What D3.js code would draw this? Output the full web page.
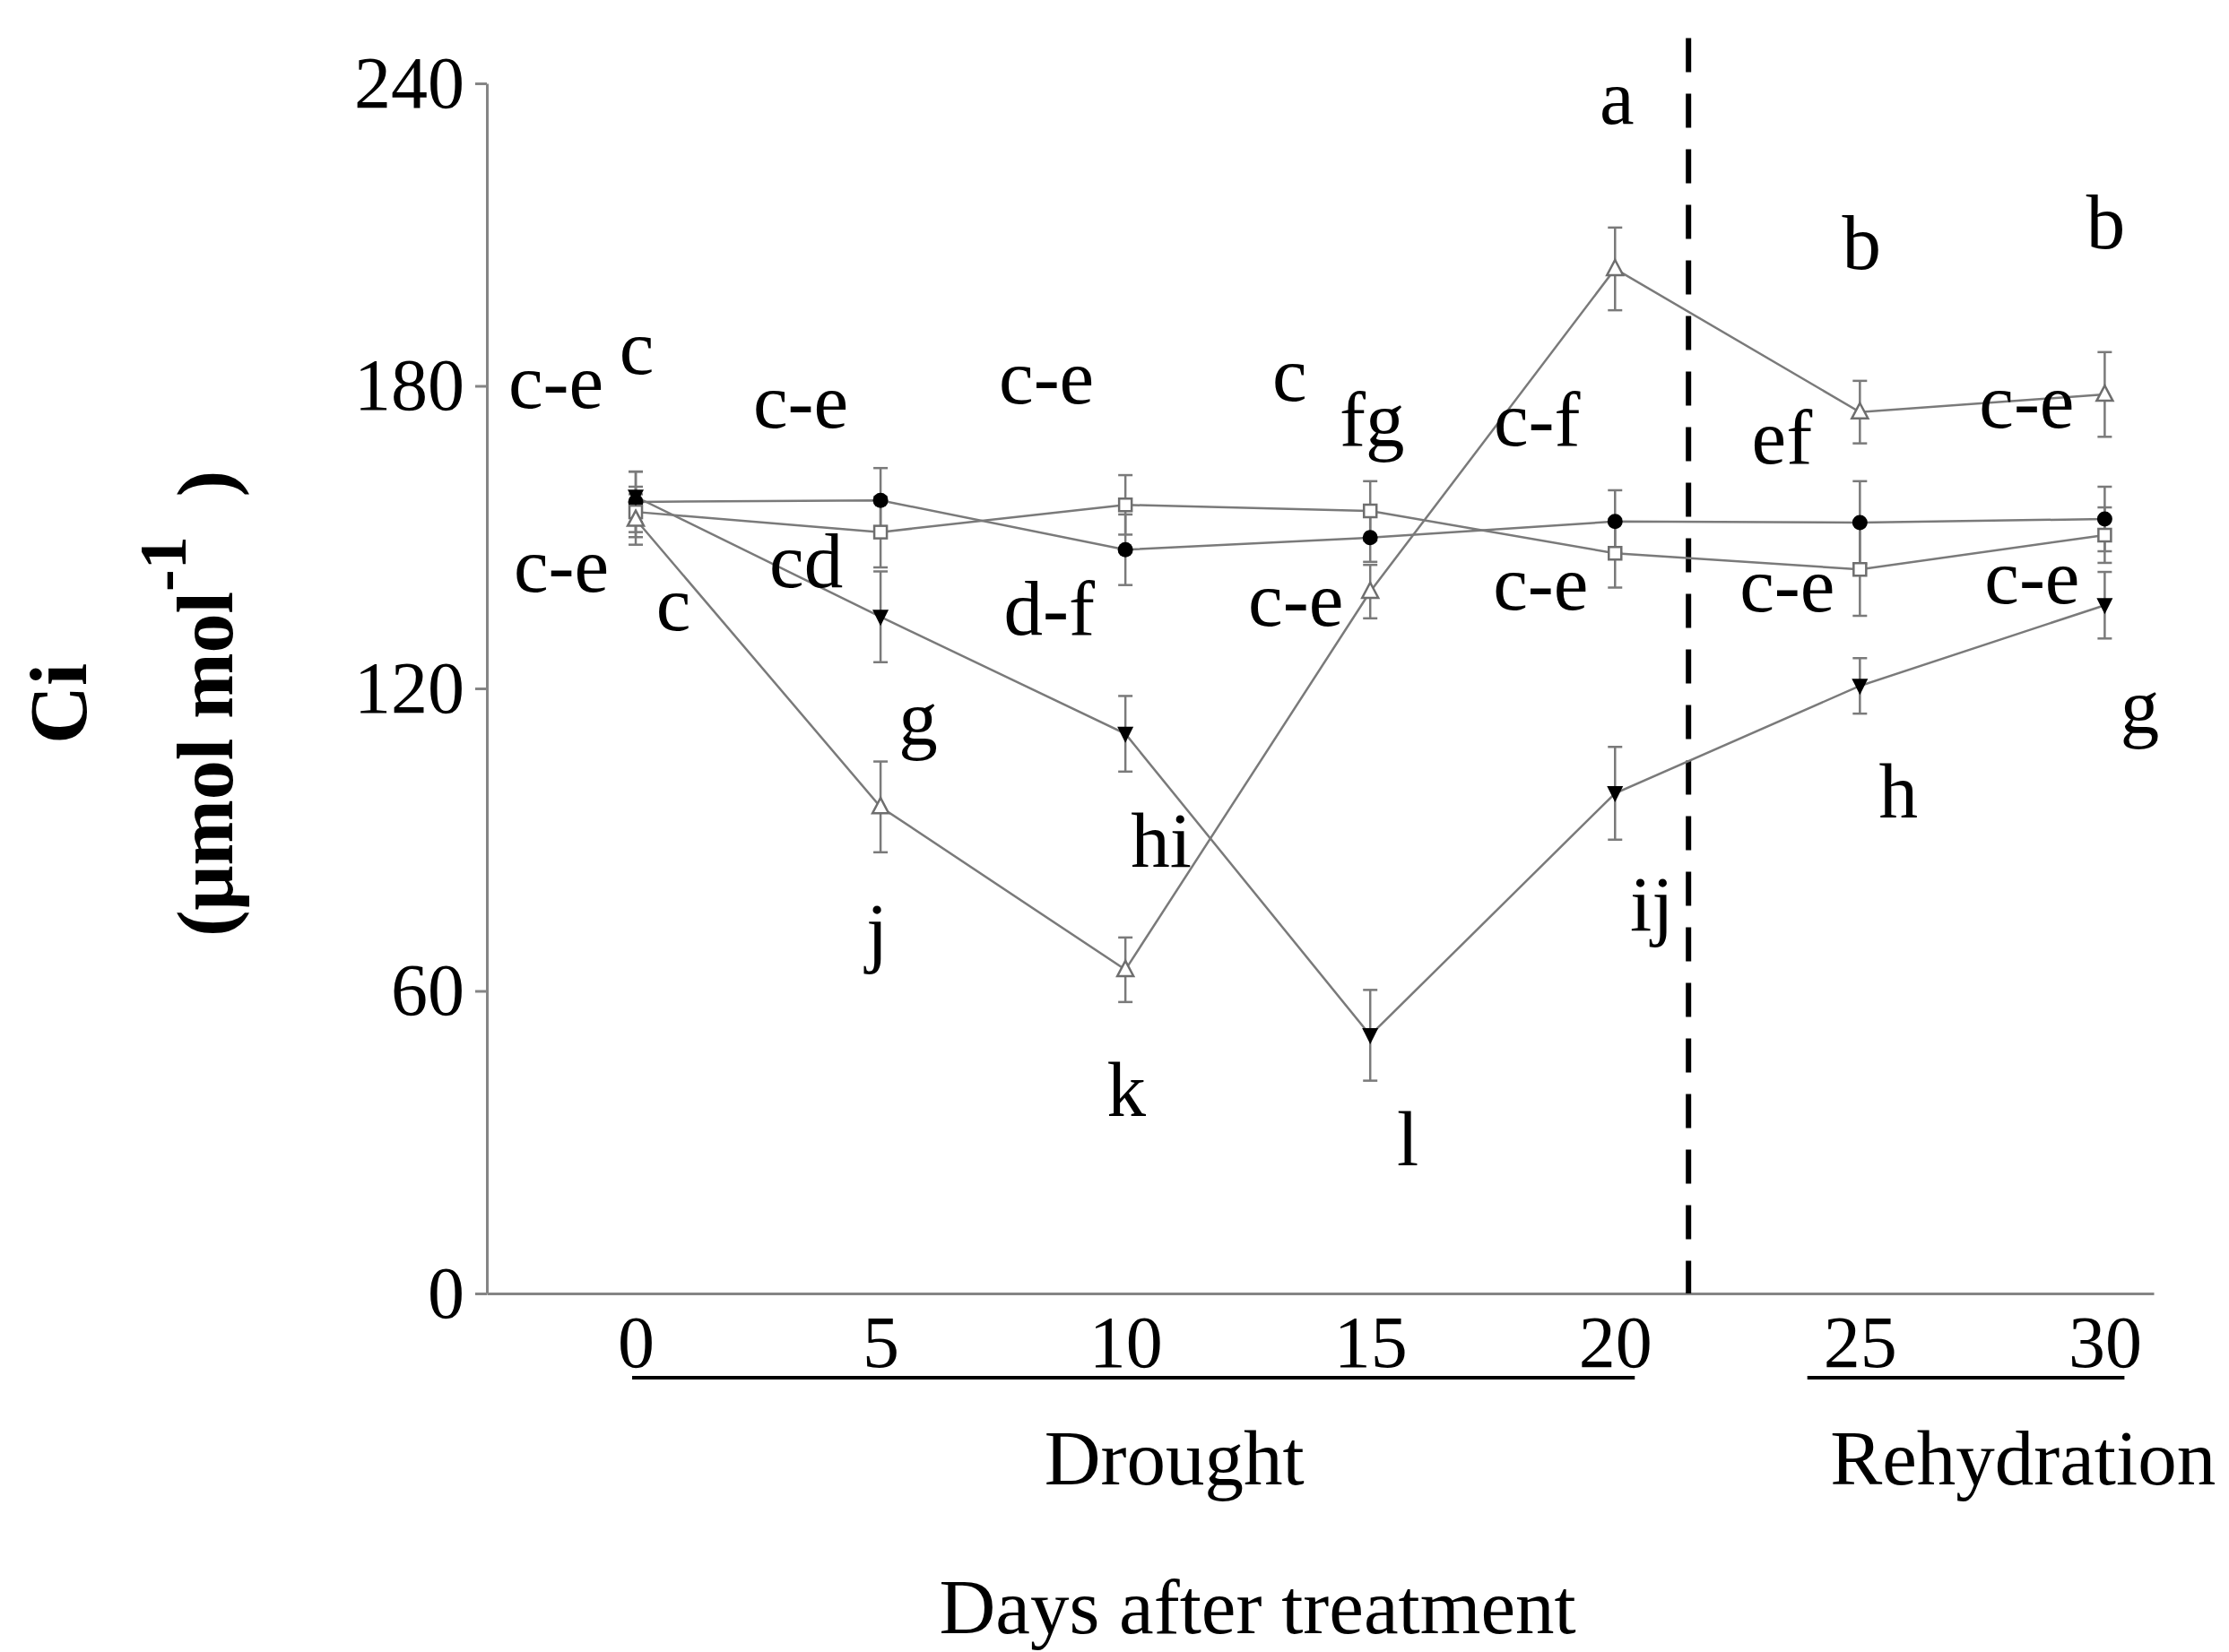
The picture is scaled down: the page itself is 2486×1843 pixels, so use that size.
<!DOCTYPE html>
<html>
<head>
<meta charset="utf-8">
<script src="https://cdn.jsdelivr.net/npm/d3@7"></script>
<style>
  body { margin: 0; background: #fff; }
  svg { display: block; }
  text { font-family: "Liberation Serif", "Times New Roman", serif; fill: #000; }
</style>
</head>
<body>
<svg id="chart" width="2486" height="1843"></svg>
<script>
// ---- Data: intercellular CO2 (Ci, µmol mol-1), mean ± SE ----
const days = [0, 5, 10, 15, 20, 25, 30];

const ciFilledCircle = [157, 157.3, 147.5, 149.9, 153.1, 152.9, 153.6];
const seFilledCircle = [6, 6.4, 7, 4.8, 6.2, 8.2, 6.4];
const lettersFilledCircle = ["c-e", "c-e", "d-f", "c-e", "c-f", "c-e", "c-e"];

const ciOpenSquare = [155, 151, 156.4, 155.2, 146.8, 143.6, 150.4];
const seOpenSquare = [5, 7, 5.9, 5.9, 6.8, 9.2, 5.5];
const lettersOpenSquare = ["c", "cd", "c-e", "c", "c-e", "ef", "c-e"];

const ciOpenTriangle = [153.5, 96.5, 64.2, 139.2, 203.2, 174.8, 178.3];
const seOpenTriangle = [5, 9, 6.4, 5.3, 8.2, 6.2, 8.4];
const lettersOpenTriangle = ["c-e", "j", "k", "fg", "a", "b", "b"];

const ciFilledDown = [158, 134.2, 111, 51.2, 99.2, 120.5, 136.5];
const seFilledDown = [5, 9, 7.5, 9, 9.2, 5.5, 6.6];
const lettersFilledDown = ["c", "g", "hi", "l", "ij", "h", "g"];

const yTickValues = [0, 60, 120, 180, 240];
const xTickValues = [0, 5, 10, 15, 20, 25, 30];

const phaseNames = ["Drought", "Rehydration"];
const phaseStart = [0, 24];
const phaseEnd = [20, 30];
const phaseNameAt = [11, 28.33];
const rewateringDay = 21.5;

// ---- Layout ----
const svg = d3.select("#chart");
const x = d3.scaleLinear().domain([-3.04, 31]).range([543, 2402]);
const y = d3.scaleLinear().domain([0, 240]).range([1443, 93]);

const AXIS_GREY = "#858585";
const LINE_GREY = "#7a7a7a";

// label offsets (px) from each point: [dx, dy] to the label's baseline centre
const labelOffsets = {
  filledCircle: [[-89, -105], [-89, -81], [-85, 95], [-83, 98], [-87, -85], [-81, 99], [-87, -102]],
  openSquare:   [[1, -154], [-83, 61], [-88, -113], [-90, -123], [-83, 63], [-87, -118], [-81, 76]],
  openTriangle: [[-83, 80], [-4, 168], [1, 163], [2, -163], [2, -162], [2, -160], [1, -163]],
  filledDown:   [[42, 149], [42, 142], [40, 148], [42, 145], [41, 153], [43, 147], [39, 142]]
};

const series = [
  { key: "filledCircle", values: ciFilledCircle, se: seFilledCircle, letters: lettersFilledCircle, shape: "circle", fill: "#000", stroke: "#000" },
  { key: "openSquare", values: ciOpenSquare, se: seOpenSquare, letters: lettersOpenSquare, shape: "square", fill: "#fff", stroke: "#6e6e6e" },
  { key: "openTriangle", values: ciOpenTriangle, se: seOpenTriangle, letters: lettersOpenTriangle, shape: "triangle", fill: "#fff", stroke: "#6e6e6e" },
  { key: "filledDown", values: ciFilledDown, se: seFilledDown, letters: lettersFilledDown, shape: "down", fill: "#000", stroke: "#000" }
];

// ---- Axes ----
const yAxis = d3.axisLeft(y).tickValues(yTickValues).tickSize(13).tickSizeOuter(0).tickPadding(12);
const gy = svg.append("g").attr("transform", `translate(${x(-3.04)},0)`).call(yAxis);
gy.select(".domain").attr("stroke", AXIS_GREY).attr("stroke-width", 3);
gy.selectAll(".tick line").attr("stroke", AXIS_GREY).attr("stroke-width", 3);
gy.selectAll(".tick text").style("font-family", "Liberation Serif").style("font-size", "82px").attr("fill", "#000");

const xAxis = d3.axisBottom(x).tickValues(xTickValues).tickSize(0).tickSizeOuter(0).tickPadding(24);
const gx = svg.append("g").attr("transform", `translate(0,${y(0)})`).call(xAxis);
gx.select(".domain").attr("stroke", AXIS_GREY).attr("stroke-width", 3);
gx.selectAll(".tick text").style("font-family", "Liberation Serif").style("font-size", "82px").attr("fill", "#000");

// ---- Rewatering divider ----
svg.append("line")
  .attr("x1", x(rewateringDay)).attr("x2", x(rewateringDay))
  .attr("y1", y(249)).attr("y2", y(0))
  .attr("stroke", "#000").attr("stroke-width", 6)
  .attr("stroke-dasharray", "38,24");

// ---- Phase underlines and names ----
const phaseLineY = y(0) + 94;
phaseNames.forEach((name, i) => {
  svg.append("line")
    .attr("x1", x(phaseStart[i]) - 4).attr("x2", x(phaseEnd[i]) + 22)
    .attr("y1", phaseLineY).attr("y2", phaseLineY)
    .attr("stroke", "#000").attr("stroke-width", 4);
  svg.append("text").attr("x", x(phaseNameAt[i])).attr("y", 1656).attr("text-anchor", "middle")
    .style("font-size", "87px").text(name);
});

svg.append("text").attr("x", x(12.7)).attr("y", 1822).attr("text-anchor", "middle")
  .style("font-size", "87px").text("Days after treatment");

// ---- Y axis title ----
svg.append("text")
  .attr("transform", `translate(96,${y(117)}) rotate(-90)`)
  .attr("text-anchor", "middle")
  .style("font-size", "90px").style("font-weight", "bold")
  .text("Ci");

const unit = svg.append("text")
  .attr("transform", `translate(259,${y(117)}) rotate(-90)`)
  .attr("text-anchor", "middle")
  .style("font-size", "88px").style("font-weight", "bold");
unit.append("tspan").text("(μmol mol");
unit.append("tspan").attr("dy", -52).style("font-size", "74px").text("-1");
unit.append("tspan").attr("dy", 52).attr("dx", 22).text(" )");

// ---- Series: error bars, lines, markers ----
const line = d3.line().x((d, i) => x(days[i])).y(d => y(d));
const cap = 8;

series.forEach(s => {
  const g = svg.append("g");
  // error bars
  s.values.forEach((v, i) => {
    const cx = x(days[i]);
    const top = y(v + s.se[i]), bot = y(v - s.se[i]);
    g.append("line").attr("x1", cx).attr("x2", cx).attr("y1", top).attr("y2", bot)
      .attr("stroke", LINE_GREY).attr("stroke-width", 2.5);
    [top, bot].forEach(yy => g.append("line")
      .attr("x1", cx - cap).attr("x2", cx + cap).attr("y1", yy).attr("y2", yy)
      .attr("stroke", LINE_GREY).attr("stroke-width", 2.5));
  });
  // connecting line
  g.append("path").datum(s.values).attr("d", line)
    .attr("fill", "none").attr("stroke", LINE_GREY).attr("stroke-width", 2.5);
});

series.forEach(s => {
  const g = svg.append("g");
  s.values.forEach((v, i) => {
    const cx = x(days[i]), cy = y(v);
    if (s.shape === "circle") {
      g.append("circle").attr("cx", cx).attr("cy", cy).attr("r", 8.5).attr("fill", s.fill);
    } else if (s.shape === "square") {
      g.append("rect").attr("x", cx - 7).attr("y", cy - 7).attr("width", 14).attr("height", 14)
        .attr("fill", s.fill).attr("stroke", s.stroke).attr("stroke-width", 2.5);
    } else if (s.shape === "triangle") {
      g.append("path").attr("d", `M${cx},${cy - 10}L${cx + 9},${cy + 7}L${cx - 9},${cy + 7}Z`)
        .attr("fill", s.fill).attr("stroke", s.stroke).attr("stroke-width", 2.5);
    } else {
      g.append("path").attr("d", `M${cx - 9},${cy - 8}L${cx + 9},${cy - 8}L${cx},${cy + 10}Z`)
        .attr("fill", s.fill);
    }
  });
});

// ---- Significance letters ----
series.forEach(s => {
  s.letters.forEach((t, i) => {
    const [dx, dy] = labelOffsets[s.key][i];
    svg.append("text")
      .attr("x", x(days[i]) + dx).attr("y", y(s.values[i]) + dy)
      .attr("text-anchor", "middle")
      .style("font-size", "87px")
      .text(t);
  });
});
</script>
</body>
</html>
